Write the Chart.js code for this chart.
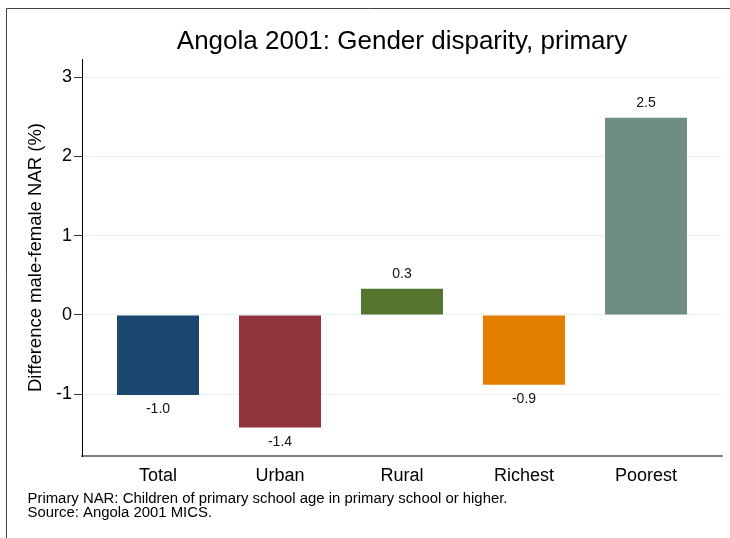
<!DOCTYPE html>
<html><head><meta charset="utf-8">
<script src="https://cdn.jsdelivr.net/npm/chart.js@4"></script>
<style>html,body{margin:0;padding:0;background:#fff}canvas{display:block}</style>
</head><body>
<canvas id="c" width="730" height="538"></canvas>
<script>
const categories = ['Total', 'Urban', 'Rural', 'Richest', 'Poorest'];
const values = [-1.01, -1.42, 0.33, -0.88, 2.49];
const barColors = ['#1a476f', '#90353b', '#55752f', '#e37e00', '#6e8e84'];
const yTicks = [-1, 0, 1, 2, 3];
const titleText = 'Angola 2001: Gender disparity, primary';
const yTitle = 'Difference male-female NAR (%)';
const notes = ['Primary NAR: Children of primary school age in primary school or higher.', 'Source: Angola 2001 MICS.'];
const FONT = "'Liberation Sans', Arial, Helvetica, sans-serif";

const framePlugin = {
  id: 'frame',
  beforeDraw(chart) {
    const ctx = chart.ctx;
    ctx.save();
    ctx.fillStyle = '#fff';
    ctx.fillRect(0, 0, chart.width, chart.height);
    ctx.strokeStyle = '#444';
    ctx.lineWidth = 1;
    ctx.beginPath();
    ctx.moveTo(6.5, chart.height);
    ctx.lineTo(6.5, 8.5);
    ctx.lineTo(chart.width, 8.5);
    ctx.stroke();
    ctx.restore();
  }
};

const valueLabelPlugin = {
  id: 'valueLabels',
  afterDatasetsDraw(chart) {
    const ctx = chart.ctx;
    const meta = chart.getDatasetMeta(0);
    ctx.save();
    ctx.font = '14px ' + FONT;
    ctx.fillStyle = '#111';
    ctx.textAlign = 'center';
    ctx.textBaseline = 'middle';
    meta.data.forEach((bar, i) => {
      const v = values[i];
      const y = v >= 0 ? bar.y - 14.5 : bar.y + 14.5;
      ctx.fillText(v.toFixed(1), bar.x, y);
    });
    ctx.restore();
  }
};

const textPlugin = {
  id: 'texts',
  afterDraw(chart) {
    const ctx = chart.ctx;
    const ca = chart.chartArea;
    ctx.save();
    ctx.fillStyle = '#000';
    ctx.textBaseline = 'alphabetic';
    ctx.textAlign = 'center';
    ctx.font = '26px ' + FONT;
    ctx.fillText(titleText, (ca.left + ca.right) / 2, 48.5);
    ctx.textAlign = 'left';
    ctx.font = '14.9px ' + FONT;
    ctx.fillText(notes[0], 27.5, 503.3);
    ctx.fillText(notes[1], 27.5, 516.8);
    ctx.restore();
  }
};

new Chart(document.getElementById('c'), {
  type: 'bar',
  data: {
    datasets: [{
      data: categories.map((c, i) => ({ x: i, y: values[i] })),
      backgroundColor: barColors,
      borderWidth: 0,
      categoryPercentage: 1,
      barPercentage: 0.672
    }]
  },
  options: {
    responsive: false,
    devicePixelRatio: 1,
    animation: false,
    layout: { padding: { left: 0, right: 8, top: 59, bottom: 0 } },
    plugins: { legend: { display: false }, title: { display: false }, tooltip: { enabled: false } },
    scales: {
      x: {
        type: 'linear',
        offset: false,
        min: -0.623,
        max: 4.623,
        afterBuildTicks: s => { s.ticks = categories.map((c, i) => ({ value: i })); },
        afterFit: s => { s.height = 82; },
        grid: { display: false, drawTicks: false, offset: false },
        border: { display: true, color: '#7f7f7f', width: 2 },
        ticks: {
          autoSkip: false, maxRotation: 0, padding: 9, color: '#000',
          font: { family: FONT, size: 18 },
          callback: v => categories[v] !== undefined ? categories[v] : ''
        }
      },
      y: {
        min: -1.78,
        max: 3.23,
        afterBuildTicks: s => { s.ticks = yTicks.map(v => ({ value: v })); },
        afterFit: s => { s.width = 82; },
        grid: { color: '#eaf2f3', lineWidth: 1, tickLength: 8, tickColor: '#333', drawTicks: true },
        border: { display: true, color: '#000', width: 1 },
        ticks: { padding: 2, color: '#000', font: { family: FONT, size: 18 } },
        title: { display: true, text: yTitle, color: '#000', font: { family: FONT, size: 18.5 }, padding: { top: 25, bottom: 0 } }
      }
    }
  },
  plugins: [framePlugin, valueLabelPlugin, textPlugin]
});
</script>
</body></html>
